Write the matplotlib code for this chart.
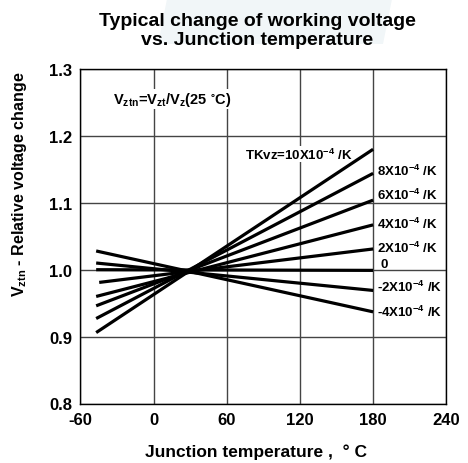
import matplotlib
matplotlib.use('Agg')
import matplotlib.pyplot as plt
from matplotlib.patches import Polygon

plt.rcParams['font.family'] = ['Liberation Sans', 'DejaVu Sans']
plt.rcParams['font.weight'] = 'bold'
plt.rcParams['mathtext.fontset'] = 'custom'
plt.rcParams['mathtext.rm'] = 'Liberation Sans:bold'
plt.rcParams['mathtext.it'] = 'Liberation Sans:bold'
plt.rcParams['mathtext.bf'] = 'Liberation Sans:bold'
plt.rcParams['mathtext.default'] = 'regular'
plt.rcParams['axes.unicode_minus'] = False

# temperature coefficients (x10^-4 /K) and line end points
tk = [10, 8, 6, 4, 2, 0, -2, -4]
t_start = [-47, -47, -47, -47, -44.5, -47, -47, -47]
t_end = [180, 180, 180, 180, 180, 180, 180, 180]
v_start = [0.906, 0.927, 0.946, 0.960, 0.981, 1.000, 1.010, 1.028]
v_end = [1.180, 1.144, 1.104, 1.067, 1.031, 0.999, 0.969, 0.937]

# right-hand labels (TK=10 label sits inside the plot)
label_text = ['8X10$^{-4}$ /K', '6X10$^{-4}$ /K', '4X10$^{-4}$ /K',
              '2X10$^{-4}$ /K', '0', '-2X10$^{-4}$ /K', '-4X10$^{-4}$ /K']
label_y = [1.148, 1.113, 1.069, 1.034, 1.008, 0.975, 0.938]

x_ticks = [-60, 0, 60, 120, 180, 240]
y_ticks = [0.8, 0.9, 1.0, 1.1, 1.2, 1.3]

fig = plt.figure(figsize=(4.68, 4.64), dpi=100)

# faint watermark behind the title
fig.patches.append(Polygon([(167/468, 1), (392/468, 1), (383/468, 1-45/464), (158/468, 1-45/464)],
                           closed=True, transform=fig.transFigure, facecolor='#f1f6f8',
                           edgecolor='none', zorder=0))

ax = fig.add_axes([80.3/468, 1-404.5/464, 366/468, 334.5/464])
ax.set_xlim(-60, 240)
ax.set_ylim(0.8, 1.3)
ax.set_xticks(x_ticks)
ax.set_yticks(y_ticks)
ax.set_xticklabels([str(t) for t in x_ticks])
ax.set_yticklabels([f'{v:.1f}' for v in y_ticks])
ax.tick_params(length=0, labelsize=12, pad=6)
ax.grid(True, color='#444444', linewidth=1)
for s in ax.spines.values():
    s.set_color('black')
    s.set_linewidth(1)

for i in range(len(tk)):
    ax.plot([t_start[i], t_end[i]], [v_start[i], v_end[i]], color='black',
            linewidth=2.3, solid_capstyle='butt', zorder=3)

ax.text(74.8, 1.173, 'TKvz=10X10$^{-4}$ /K', fontsize=9.5, va='center', ha='left',
        bbox=dict(facecolor='white', edgecolor='none', pad=0.5), zorder=2)
for txt, y in zip(label_text, label_y):
    x = 186 if txt == '0' else 183.4
    ax.text(x, y, txt, fontsize=9.5, va='center', ha='left', zorder=4)

ax.text(-33, 1.255, r'V$_{ztn}$=V$_{zt}$/V$_{z}$(25 $^{\circ}$C)', fontsize=10.5,
        va='center', ha='left',
        bbox=dict(facecolor='white', edgecolor='none', pad=0.5), zorder=2)

fig.text(257/468, 1-31/464, 'Typical change of working voltage\nvs. Junction temperature',
         ha='center', va='center', fontsize=14, fontweight='bold', linespacing=1.15)
fig.text(256/468, 1-452/464, 'Junction temperature ,  \u00b0 C', ha='center', va='center',
         fontsize=12.5, fontweight='bold')
fig.text(20/468, 1-184/464, r'V$_{ztn}$ - Relative voltage change', ha='center', va='center',
         rotation=90, fontsize=11.5, fontweight='bold')

fig.savefig('out.png', dpi=100)
